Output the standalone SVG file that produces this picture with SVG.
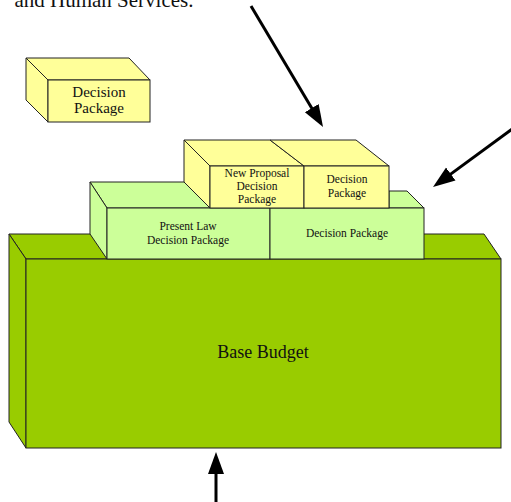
<svg xmlns="http://www.w3.org/2000/svg" width="511" height="502" viewBox="0 0 511 502">
<style>
.f{stroke:#222;stroke-width:1;stroke-linejoin:miter}
.y{fill:#FFFF99}
.g{fill:#CCFF99}
.b{fill:#99CC00}
text{font-family:"Liberation Serif","Times New Roman",serif;fill:#111;text-anchor:middle}
.s{font-size:11.5px}
.conn{stroke:#000;stroke-width:3;fill:none}
</style>
<defs>
<marker id="ah" markerUnits="userSpaceOnUse" markerWidth="24" markerHeight="18" refX="12" refY="8" orient="auto" viewBox="0 0 24 16">
<path d="M0,0 L22,8 L0,16 z" fill="#000"/>
</marker>
</defs>
<rect width="511" height="502" fill="#fff"/>
<text x="104" y="7" style="font-size:21px">and Human Services.</text>

<g id="base-budget">
<polygon class="f b" points="9,234 484,234 501,259 26,259"/>
<polygon class="f b" points="9,234 26,259 26,448 9,422"/>
<rect class="f b" x="26" y="259" width="475" height="189"/>
<text x="263" y="358" style="font-size:18px">Base Budget</text>
</g>

<g id="present-law">
<polygon class="f g" points="90,182 184,182 210,208 107,208"/>
<polygon class="f g" points="90,182 107,208 107,259 90,234"/>
<rect class="f g" x="107" y="208" width="163" height="51"/>
<text class="s" x="188" y="230">Present Law</text>
<text class="s" x="188" y="244">Decision Package</text>
</g>

<g id="decision-package-green">
<polygon class="f g" points="389,191 407,191 424,208 389,208"/>
<rect class="f g" x="270" y="208" width="154" height="51"/>
<text class="s" x="347" y="237">Decision Package</text>
</g>

<g id="new-proposal">
<polygon class="f y" points="184,140 270,140 304,166 210,166"/>
<polygon class="f y" points="184,140 210,166 210,208 184,182"/>
<rect class="f y" x="210" y="166" width="94" height="42"/>
<text class="s" x="257" y="177">New Proposal</text>
<text class="s" x="257" y="190">Decision</text>
<text class="s" x="257" y="203">Package</text>
</g>

<g id="decision-package-yellow">
<polygon class="f y" points="270,140 356,140 389,166 304,166"/>
<rect class="f y" x="304" y="166" width="85" height="42"/>
<text class="s" x="347" y="183">Decision</text>
<text class="s" x="347" y="197">Package</text>
</g>

<g id="legend-decision-package">
<polygon class="f y" points="26,58 129,58 150,80 48,80"/>
<polygon class="f y" points="26,58 48,80 48,122 26,100"/>
<rect class="f y" x="48" y="80" width="102" height="42"/>
<text x="99" y="97" style="font-size:15px">Decision</text>
<text x="99" y="113" style="font-size:15px">Package</text>
</g>

<g id="connectors">
<line class="conn" x1="251" y1="6" x2="317.9" y2="118.4" marker-end="url(#ah)"/>
<line class="conn" x1="520" y1="123.4" x2="441.1" y2="181.1" marker-end="url(#ah)"/>
<line class="conn" x1="216" y1="505" x2="216" y2="462" marker-end="url(#ah)"/>
</g>
</svg>
